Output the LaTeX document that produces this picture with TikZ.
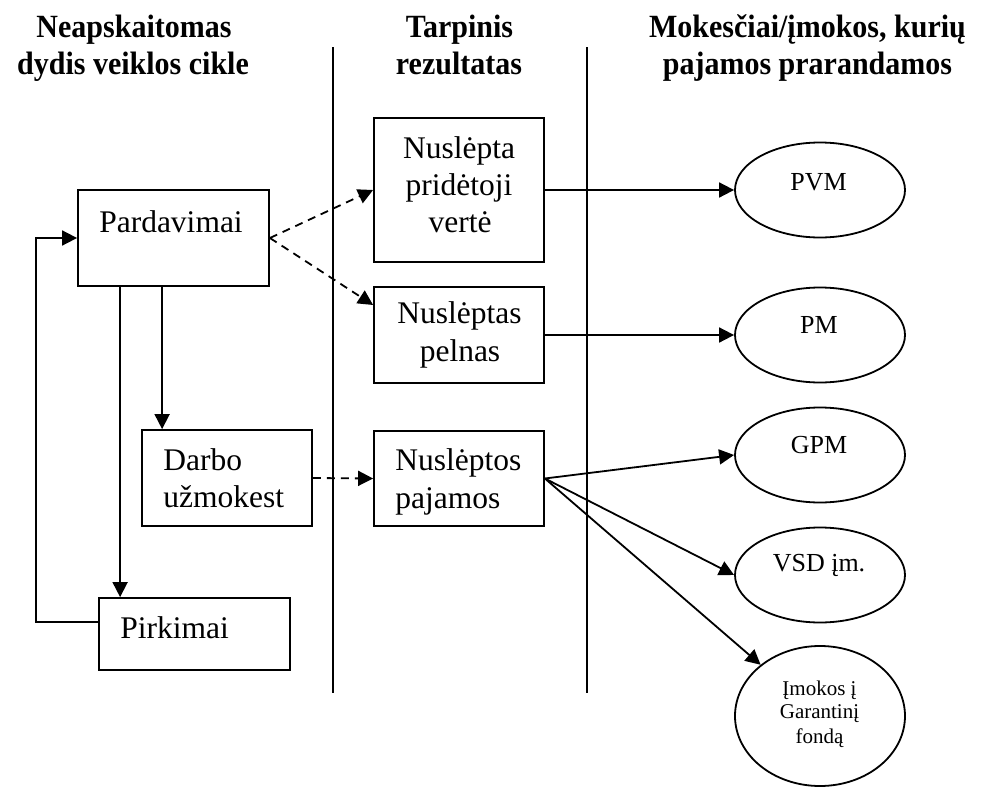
\documentclass[tikz,border=0pt]{standalone}
\usepackage{fontspec}
\usepackage{graphicx}
\setmainfont{Liberation Serif}
\usetikzlibrary{arrows.meta,shapes.geometric}

\newcommand{\headfont}{\bfseries\fontsize{15pt}{18pt}\selectfont}
\newcommand{\boxfont}{\fontsize{15.75pt}{18.5pt}\selectfont}
\newcommand{\ovalfont}{\fontsize{13pt}{15pt}\selectfont}
\newcommand{\smallovalfont}{\fontsize{10.5pt}{12pt}\selectfont}
% headings are set slightly taller than the plain bold face
\newcommand{\headtext}[1]{\scalebox{1}[1.08]{#1}}

\tikzset{
  box/.style={draw, line width=0.9pt, inner sep=0pt},
  oval/.style={draw, ellipse, line width=0.9pt, inner sep=0pt,
               minimum width=85pt},
  conn/.style={line width=0.9pt, -{Triangle[length=7.5pt,width=7.5pt]}},
  dconn/.style={conn, dash pattern=on 4pt off 3pt},
  sep/.style={line width=0.9pt},
  head/.style={font=\headfont, anchor=base, inner sep=0pt},
  ctxt/.style={font=\boxfont, anchor=base, inner sep=0pt},
  ltxt/.style={font=\boxfont, anchor=base west, inner sep=0pt},
  otxt/.style={font=\ovalfont, anchor=base, inner sep=0pt},
  stxt/.style={font=\smallovalfont, anchor=base, inner sep=0pt},
}

\begin{document}
\begin{tikzpicture}[x=0.5pt, y=-0.5pt]
  \useasboundingbox (0,0) rectangle (992,787);

  % column headings
  \node[head] (h1a) at (134,38) {\headtext{Neapskaitomas}};
  \node[head] (h1b) at (133,74) {\headtext{dydis veiklos cikle}};
  \node[head] (h2a) at (459.5,37) {\headtext{Tarpinis}};
  \node[head] (h2b) at (459,74) {\headtext{rezultatas}};
  \node[head] (h3a) at (807.5,37) {\headtext{Mokesčiai/įmokos, kurių}};
  \node[head] (h3b) at (807.5,74) {\headtext{pajamos prarandamos}};

  % column separators
  \coordinate (s1t) at (333,47);
  \coordinate (s1b) at (333,693);
  \coordinate (s2t) at (587,47);
  \coordinate (s2b) at (587,693);
  \draw[sep] (s1t) -- (s1b);
  \draw[sep] (s2t) -- (s2b);

  % left column: operating cycle
  \node[box, minimum width=95.5pt, minimum height=48pt] (pard) at (173.5,238) {};
  \node[ctxt] (pardt) at (171,232) {Pardavimai};

  \node[box, minimum width=85pt, minimum height=48pt] (darbo) at (227,478) {};
  \node[ltxt] (darbot1) at (163,470) {Darbo};
  \node[ltxt] (darbot2) at (163,507) {užmokest};

  \node[box, minimum width=95.5pt, minimum height=36pt] (pirk) at (194.5,634) {};
  \node[ltxt] (pirkt) at (120,638) {Pirkimai};

  % middle column: intermediate results
  \node[box, minimum width=85pt, minimum height=72pt] (npv) at (459,190) {};
  \node[ctxt] (npvt1) at (459,158) {Nuslėpta};
  \node[ctxt] (npvt2) at (459,195) {pridėtoji};
  \node[ctxt] (npvt3) at (460,232) {vertė};

  \node[box, minimum width=85pt, minimum height=48pt] (npel) at (459,335) {};
  \node[ctxt] (npelt1) at (459.5,323) {Nuslėptas};
  \node[ctxt] (npelt2) at (460,361) {pelnas};

  \node[box, minimum width=85pt, minimum height=47.5pt] (npaj) at (459,478.5) {};
  \node[ltxt] (npajt1) at (395,470) {Nuslėptos};
  \node[ltxt] (npajt2) at (395,508) {pajamos};

  % right column: taxes and contributions
  \node[oval, minimum height=47.5pt] (pvm) at (820,190) {};
  \node[otxt] (pvmt) at (818.5,190) {PVM};
  \node[oval, minimum height=47.5pt] (pm) at (820,335) {};
  \node[otxt] (pmt) at (819,333) {PM};
  \node[oval, minimum height=47.5pt] (gpm) at (820,455) {};
  \node[otxt] (gpmt) at (819,453) {GPM};
  \node[oval, minimum height=47.5pt] (vsd) at (820,575) {};
  \node[otxt] (vsdt) at (819,571) {VSD įm.};
  \node[oval, minimum height=70pt] (imok) at (820,716) {};
  \node[stxt] (imokt1) at (819.5,695) {Įmokos į};
  \node[stxt] (imokt2) at (819.5,718) {Garantinį};
  \node[stxt] (imokt3) at (819.5,743) {fondą};

  % flows inside the operating cycle
  \coordinate (pa) at ([xshift=21.5pt]pard.south west);
  \coordinate (pb) at ([xshift=42.5pt]pard.south west);
  \draw[conn] (pa) -- (pa |- pirk.north);
  \draw[conn] (pb) -- (pb |- darbo.north);

  \coordinate (pl) at ([yshift=6pt]pirk.west);
  \coordinate (loopx) at (36,400);
  \draw[conn] (pl) -- (pl -| loopx) -- (loopx |- pard.west) -- (pard.west);

  % hidden amounts
  \draw[dconn] (pard.east) -- (npv.west);
  \draw[dconn] (pard.east) -- ([yshift=15pt]npel.west);
  \draw[dconn] (darbo.east) -- (npaj.west);

  % lost revenue
  \draw[conn] (npv.east) -- (pvm.west);
  \draw[conn] (npel.east) -- (pm.west);
  \draw[conn] (npaj.east) -- (gpm.west);
  \draw[conn] (npaj.east) -- (vsd.west);
  \draw[conn] (npaj.east) -- (imok);
\end{tikzpicture}
\end{document}
